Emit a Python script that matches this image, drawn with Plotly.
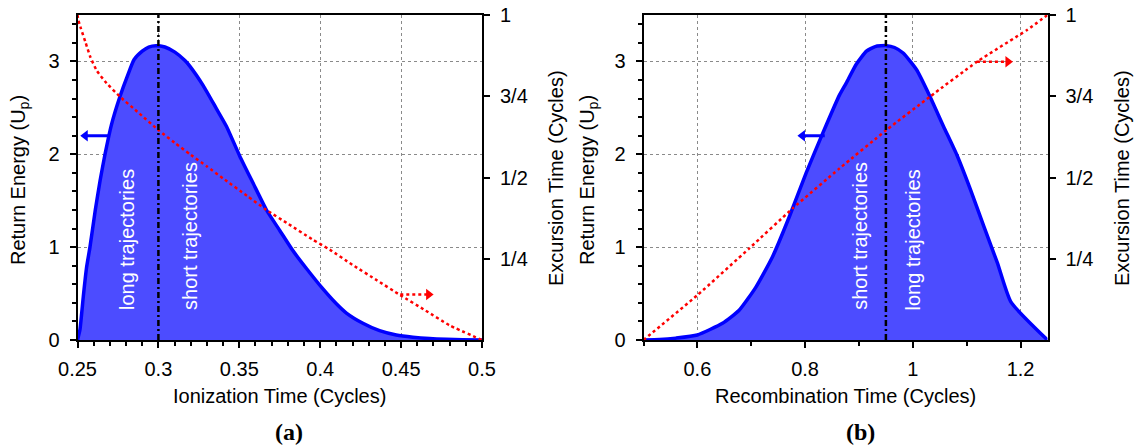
import plotly.graph_objects as go

# ---------------- panel (a): versus ionization time ----------------
ion_time = [0.2500, 0.2515, 0.2536, 0.2556, 0.2577, 0.2610, 0.2640, 0.2670, 0.2710, 0.2762,
            0.2810, 0.2850, 0.2900, 0.2940, 0.2985, 0.3040, 0.3102, 0.3164, 0.3194,
            0.3277, 0.3359, 0.3421, 0.3503, 0.3585, 0.3668, 0.3750, 0.3832, 0.3915, 0.4017,
            0.4100, 0.4162, 0.4264, 0.4367, 0.4470, 0.4573, 0.4676, 0.4780, 0.4880, 0.5000]
ion_energy = [0.00, 0.11, 0.47, 0.78, 1.00, 1.40, 1.72, 2.00, 2.32, 2.62,
              2.85, 3.02, 3.11, 3.155, 3.17, 3.155, 3.10, 3.01, 2.95,
              2.74, 2.49, 2.30, 1.98, 1.69, 1.40, 1.18, 0.96, 0.77, 0.55,
              0.39, 0.29, 0.18, 0.10, 0.054, 0.030, 0.015, 0.007, 0.003, 0.000]

ion_exc_time = [0.2500, 0.2505, 0.2520, 0.2550, 0.2580, 0.2620, 0.2680, 0.2762, 0.2880, 0.3000,
                0.3100, 0.3200, 0.3300, 0.3400, 0.3550, 0.3668, 0.3800, 0.3950, 0.4059, 0.4200,
                0.4350, 0.4495, 0.4650, 0.4800, 0.5000]
ion_excursion = [1.000, 0.985, 0.960, 0.915, 0.870, 0.828, 0.790, 0.749, 0.698, 0.646,
                 0.607, 0.570, 0.534, 0.497, 0.443, 0.400, 0.358, 0.310, 0.278, 0.231,
                 0.184, 0.138, 0.091, 0.045, 0.000]

# ---------------- panel (b): versus recombination time ----------------
rec_time = [0.500, 0.530, 0.560, 0.600, 0.6466, 0.6776, 0.7087, 0.7398, 0.7709, 0.8020,
            0.8330, 0.8640, 0.8766, 0.8950, 0.9139, 0.9300, 0.9511, 0.9660, 0.9820, 1.0070,
            1.0320, 1.0570, 1.0820, 1.1070, 1.1320, 1.1570, 1.1820, 1.2500]
rec_energy = [0.000, 0.005, 0.020, 0.054, 0.18, 0.32, 0.57, 0.90, 1.33, 1.80,
              2.23, 2.64, 2.77, 2.97, 3.11, 3.16, 3.17, 3.15, 3.09, 2.91,
              2.62, 2.30, 1.99, 1.62, 1.22, 0.83, 0.41, 0.00]

rec_exc_time = [0.500, 0.600, 0.6964, 0.7770, 0.8640, 0.9510, 1.0320, 1.1190, 1.2120, 1.2500]
rec_excursion = [0.000, 0.138, 0.282, 0.405, 0.528, 0.646, 0.749, 0.856, 0.954, 1.000]

# cutoff (maximum return energy) separating long and short trajectories
cutoff_ion = 0.30
cutoff_rec = 0.95

# arrows pointing to the axis each curve belongs to: [tail, head]
energy_arrow_a_x = [0.2693, 0.2548]
energy_arrow_b_x = [0.8365, 0.7950]
energy_arrow_y = 2.2
excursion_arrow_a_x = [0.4495, 0.4670]
excursion_arrow_a_y = 0.14
excursion_arrow_b_x = [1.1190, 1.1765]
excursion_arrow_b_y = 0.856

# ticks
ion_ticks = [0.25, 0.3, 0.35, 0.4, 0.45, 0.5]
ion_ticklabels = ["0.25", "0.3", "0.35", "0.4", "0.45", "0.5"]
rec_ticks = [0.6, 0.8, 1.0, 1.2]
rec_ticklabels = ["0.6", "0.8", "1", "1.2"]
energy_ticks = [0, 1, 2, 3]
exc_ticks = [0.25, 0.5, 0.75, 1.0]
exc_ticklabels = ["1/4", "1/2", "3/4", "1"]

# minor tick positions
ion_minor = [round(0.25 + 0.01 * i, 2) for i in range(26)]
rec_minor = [round(0.5 + 0.1 * i, 1) for i in range(8)]
energy_minor = [round(0.2 * i, 1) for i in range(18)]

# ---------------- styling ----------------
W, H = 1138, 446
SANS = "Liberation Sans, Arial, sans-serif"
SERIF = "Liberation Serif, DejaVu Serif, serif"
FS = 20
BLUE = "#0000ff"
FILL = "rgb(76,76,255)"
RED = "#ff0000"
GRID = "#8a8a8a"


def fx(px):
    return px / W


def fy(px):
    return 1 - px / H


X_A = [fx(77.5), fx(482)]
X_B = [fx(643.5), fx(1047.5)]
Y_D = [fy(340), fy(15)]

fig = go.Figure()


def add_panel(xs, es, xe, te, arr_e, arr_x, arr_xy, xa, ya, ya2):
    fig.add_trace(go.Scatter(x=xs, y=es, mode="lines", fill="tozeroy", fillcolor=FILL,
                             line=dict(color=BLUE, width=3.5, shape="spline", smoothing=0.5),
                             xaxis=xa, yaxis=ya, hoverinfo="skip"))
    fig.add_trace(go.Scatter(x=xe, y=te, mode="lines",
                             line=dict(color=RED, width=2.5, dash="dot", shape="spline",
                                       smoothing=0.5),
                             xaxis=xa, yaxis=ya2, hoverinfo="skip"))
    # blue arrow (shaft + head) toward the energy axis
    fig.add_trace(go.Scatter(x=arr_e, y=[energy_arrow_y] * 2, mode="lines",
                             line=dict(color=BLUE, width=3), xaxis=xa, yaxis=ya,
                             hoverinfo="skip"))
    fig.add_trace(go.Scatter(x=[arr_e[1]], y=[energy_arrow_y], mode="markers",
                             marker=dict(symbol="triangle-left", size=10, color=BLUE,
                                         line=dict(width=0)),
                             xaxis=xa, yaxis=ya, hoverinfo="skip"))
    # red dotted arrow toward the excursion axis
    fig.add_trace(go.Scatter(x=arr_x, y=[arr_xy] * 2, mode="lines",
                             line=dict(color=RED, width=2.5, dash="dot"),
                             xaxis=xa, yaxis=ya2, hoverinfo="skip"))
    fig.add_trace(go.Scatter(x=[arr_x[1]], y=[arr_xy], mode="markers",
                             marker=dict(symbol="triangle-right", size=10, color=RED,
                                         line=dict(width=0)),
                             xaxis=xa, yaxis=ya2, hoverinfo="skip"))


add_panel(ion_time, ion_energy, ion_exc_time, ion_excursion, energy_arrow_a_x,
          excursion_arrow_a_x, excursion_arrow_a_y, "x", "y", "y2")
add_panel(rec_time, rec_energy, rec_exc_time, rec_excursion, energy_arrow_b_x,
          excursion_arrow_b_x, excursion_arrow_b_y, "x2", "y3", "y4")

axis_common = dict(showline=True, linecolor="black", linewidth=2, ticks="outside",
                   tickcolor="black", tickwidth=2, ticklen=6, zeroline=False, automargin=False,
                   tickfont=dict(family=SANS, size=FS, color="black"))
grid = dict(showgrid=True, gridcolor=GRID, griddash="dot", gridwidth=1)


def minor(vals):
    return dict(tickmode="array", tickvals=vals, ticks="outside", ticklen=4, tickwidth=2,
                tickcolor="black", showgrid=False)


fig.update_layout(
    width=W, height=H, margin=dict(l=0, r=0, t=0, b=0, pad=0),
    paper_bgcolor="white", plot_bgcolor="white", showlegend=False,
    xaxis=dict(domain=X_A, range=[0.25, 0.5], anchor="y", tickvals=ion_ticks,
               ticktext=ion_ticklabels, mirror=True, ticklabelstandoff=4,
               minor=minor(ion_minor), **grid, **axis_common),
    yaxis=dict(domain=Y_D, range=[0, 3.5], anchor="x", tickvals=energy_ticks, mirror=True,
               ticklabelstandoff=6, minor=minor(energy_minor), **grid, **axis_common),
    yaxis2=dict(overlaying="y", side="right", anchor="x", range=[0, 1], tickvals=exc_ticks,
                ticktext=exc_ticklabels, showgrid=False, ticklabelstandoff=6, **axis_common),
    xaxis2=dict(domain=X_B, range=[0.5, 1.25], anchor="y3", tickvals=rec_ticks,
                ticktext=rec_ticklabels, mirror=True, ticklabelstandoff=4,
                minor=minor(rec_minor), **grid, **axis_common),
    yaxis3=dict(domain=Y_D, range=[0, 3.5], anchor="x2", tickvals=energy_ticks, mirror=True,
                ticklabelstandoff=6, minor=minor(energy_minor), **grid, **axis_common),
    yaxis4=dict(overlaying="y3", side="right", anchor="x2", range=[0, 1], tickvals=exc_ticks,
                ticktext=exc_ticklabels, showgrid=False, ticklabelstandoff=6, **axis_common),
)

# dash-dotted cutoff lines
for xref, yref, xc in (("x", "y domain", cutoff_ion), ("x2", "y3 domain", cutoff_rec)):
    fig.add_shape(type="line", xref=xref, yref=yref, x0=xc, x1=xc, y0=0, y1=1,
                  line=dict(color="black", width=2.5, dash="6px,3px,2px,3px"), layer="above")

ann = []
label_font = dict(family=SANS, size=FS, color="black")

# axis titles
ann.append(dict(text="Ionization Time (Cycles)", x=fx(279.5), y=fy(396), xref="paper", yref="paper",
                showarrow=False, xanchor="center", yanchor="middle", font=label_font))
ann.append(dict(text="Recombination Time (Cycles)", x=fx(845.5), y=fy(396), xref="paper", yref="paper",
                showarrow=False, xanchor="center", yanchor="middle", font=label_font))
for xp in (19, 588):
    ann.append(dict(text="Return Energy (U<sub>p</sub>)", x=fx(xp), y=fy(180), xref="paper",
                    yref="paper", showarrow=False, textangle=-90, xanchor="center",
                    yanchor="middle", font=label_font))
for xp in (556, 1122):
    ann.append(dict(text="Excursion Time (Cycles)", x=fx(xp), y=fy(178), xref="paper",
                    yref="paper", showarrow=False, textangle=-90, xanchor="center",
                    yanchor="middle", font=label_font))

# panel captions
for txt, xp in (("(a)", 289), ("(b)", 860)):
    ann.append(dict(text=txt, x=fx(xp), y=fy(432), xref="paper", yref="paper",
                    showarrow=False, xanchor="center", yanchor="middle",
                    font=dict(family=SERIF, size=24, color="black", weight="bold")))

# trajectory labels inside the filled areas
traj_font = dict(family=SANS, size=FS, color="white")
for txt, xv, xr, yr in (("long trajectories", 0.2802, "x", "y"),
                        ("short trajectories", 0.3194, "x", "y"),
                        ("short trajectories", 0.9013, "x2", "y3"),
                        ("long trajectories", 1.0000, "x2", "y3")):
    ann.append(dict(text=txt, x=xv, y=0.30, xref=xr, yref=yr, showarrow=False, textangle=-90,
                    xanchor="center", yanchor="bottom", font=traj_font))

fig.update_layout(annotations=ann)

fig.write_html("out.html")
